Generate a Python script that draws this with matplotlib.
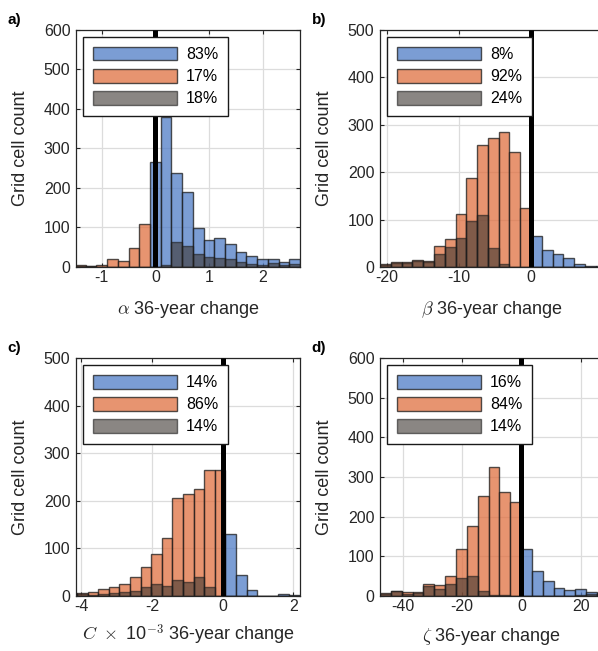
import matplotlib
matplotlib.use("Agg")
import matplotlib.pyplot as plt

plt.rcParams['font.family'] = ['Liberation Sans', 'DejaVu Sans']
plt.rcParams['mathtext.fontset'] = 'cm'
plt.rcParams['axes.unicode_minus'] = False

# panel a: alpha
a_edges = [-1.5, -1.3, -1.1, -0.9, -0.7, -0.5, -0.3, -0.1, 0.1, 0.3, 0.5,
           0.7, 0.9, 1.1, 1.3, 1.5, 1.7, 1.9, 2.1, 2.3, 2.5, 2.7]
a_neg = [5, 3, 5, 21, 14, 49, 108, 0, 0, 0, 0, 0, 0, 0, 0, 0, 0, 0, 0, 0, 0]
a_pos = [0, 0, 0, 0, 0, 0, 0, 265, 380, 237, 190, 98, 69, 74, 58, 37, 27, 19, 21, 13, 21]
a_sig = [3, 3, 0, 0, 0, 0, 0, 0, 5, 64, 53, 34, 26, 23, 19, 13, 8, 6, 11, 6, 8]
a_pct = ["83%", "17%", "18%"]

# panel b: beta
b_edges = [-21, -19.5, -18, -16.5, -15, -13.5, -12, -10.5, -9, -7.5, -6,
           -4.5, -3, -1.5, 0, 1.5, 3, 4.5, 6, 7.5, 9, 10.5]
b_neg = [7, 10, 10, 15, 13, 44, 60, 112, 187, 258, 273, 285, 242, 125, 0, 0, 0, 0, 0, 0, 0]
b_pos = [0, 0, 0, 0, 0, 0, 0, 0, 0, 0, 0, 0, 0, 0, 65, 35, 28, 18, 6, 3, 3]
b_sig = [5, 9, 8, 13, 11, 28, 43, 62, 96, 110, 39, 7, 0, 0, 0, 0, 0, 0, 0, 0, 0]
b_pct = ["8%", "92%", "24%"]

# panel c: C x 10^-3
c_edges = [-4.42, -4.12, -3.82, -3.52, -3.22, -2.92, -2.62, -2.32, -2.02, -1.72,
           -1.42, -1.12, -0.82, -0.52, -0.22, 0.08, 0.38, 0.68, 0.98, 1.28,
           1.58, 1.88, 2.18]
c_neg = [6, 6, 8, 15, 18, 26, 40, 61, 88, 122, 206, 214, 225, 264, 264,
         0, 0, 0, 0, 0, 0, 0]
c_pos = [0, 0, 0, 0, 0, 0, 0, 0, 0, 0, 0, 0, 0, 0, 0,
         130, 44, 13, 1, 1, 5, 3]
c_sig = [5, 5, 3, 4, 6, 8, 11, 18, 25, 22, 34, 30, 39, 18, 1,
         1, 0, 0, 0, 0, 0, 0]
c_pct = ["14%", "86%", "14%"]

# panel d: zeta
d_edges = [-47.68, -44.02, -40.36, -36.7, -33.04, -29.38, -25.72, -22.06, -18.4,
           -14.74, -11.08, -7.42, -3.76, -0.1, 3.56, 7.22, 10.88, 14.54, 18.2,
           21.86, 25.52, 29.18]
d_neg = [8, 13, 9, 10, 29, 27, 51, 119, 176, 251, 326, 262, 237,
         0, 0, 0, 0, 0, 0, 0, 0]
d_pos = [0, 0, 0, 0, 0, 0, 0, 0, 0, 0, 0, 0, 0,
         119, 64, 39, 21, 16, 18, 10, 8]
d_sig = [6, 12, 6, 8, 25, 17, 30, 46, 50, 12, 3, 2, 0,
         0, 0, 0, 0, 0, 2, 6, 4]
d_pct = ["16%", "84%", "14%"]

blue = '#4f7cc6'
orange = '#e07040'
gray = '#3c3530'

fig = plt.figure(figsize=(5.98, 6.51), dpi=100)

panels = [
    ("a)", [0.1271, 0.5899, 0.3746, 0.3641], a_edges, a_neg, a_pos, a_sig, a_pct,
     (-1.48, 2.7), 600, [-1, 0, 1, 2], r"$\alpha$ 36-year change", 10),
    ("b)", [0.6355, 0.5899, 0.3746, 0.3641], b_edges, b_neg, b_pos, b_sig, b_pct,
     (-21, 10.15), 500, [-20, -10, 0], r"$\beta$ 36-year change", 10),
    ("c)", [0.1271, 0.0845, 0.3746, 0.3656], c_edges, c_neg, c_pos, c_sig, c_pct,
     (-4.15, 2.19), 500, [-4, -2, 0, 2], r"$C\ \times$ 10$^{-3}$ 36-year change", 6),
    ("d)", [0.6355, 0.0845, 0.3746, 0.3656], d_edges, d_neg, d_pos, d_sig, d_pct,
     (-47.7, 27.9), 600, [-40, -20, 0, 20], r"$\zeta$ 36-year change", 8),
]

for lab, pos, edges, neg, pos_c, sig, pct, xlim, ymax, xt, xlab, lpad in panels:
    ax = fig.add_axes(pos)
    left = edges[:-1]
    widths = [edges[i + 1] - edges[i] for i in range(len(edges) - 1)]
    kw = dict(align='edge', edgecolor='#1a1a1a', linewidth=1.0)
    h1 = ax.bar(left, pos_c, widths, color=blue, alpha=0.75, zorder=2, **kw)
    h2 = ax.bar(left, neg, widths, color=orange, alpha=0.75, zorder=2, **kw)
    h3 = ax.bar(left, sig, widths, color=gray, alpha=0.6, zorder=3, **kw)
    ax.plot([0, 0], [0, ymax], color='black', lw=3.6, zorder=4, solid_capstyle='butt')
    ax.set_xlim(xlim)
    ax.set_ylim(0, ymax)
    ax.set_xticks(xt)
    ax.set_yticks(range(0, ymax + 1, 100))
    ax.grid(True, color='#dcdcdc', lw=0.9, zorder=0)
    ax.set_axisbelow(True)
    ax.tick_params(direction='in', length=3, width=0.8, labelsize=11.5, colors='#262626',
                   top=True, right=True)
    ax.tick_params(axis='x', pad=2.5)
    ax.tick_params(axis='y', pad=4)
    for sp in ax.spines.values():
        sp.set_color('#262626')
        sp.set_linewidth(0.9)
    ax.set_ylabel("Grid cell count", fontsize=13, color='#262626')
    ax.yaxis.set_label_coords(-0.21, 0.5)
    ax.set_xlabel(xlab, fontsize=13, color='#262626', labelpad=lpad)
    leg = ax.legend([h1, h2, h3], pct, loc='upper left', bbox_to_anchor=(0, 1),
                    borderaxespad=0.45, fontsize=11.5, handlelength=5.3,
                    handleheight=0.95, labelspacing=0.42, handletextpad=0.55,
                    borderpad=0.6, fancybox=False, framealpha=1, edgecolor='#1a1a1a')
    leg.get_frame().set_linewidth(1.0)
    leg.set_zorder(10)
    fig.text(pos[0] - 0.114, pos[1] + pos[3] + 0.016, lab, fontsize=11,
             fontweight='bold', ha='left', va='center')

fig.savefig("out.png", dpi=100)
